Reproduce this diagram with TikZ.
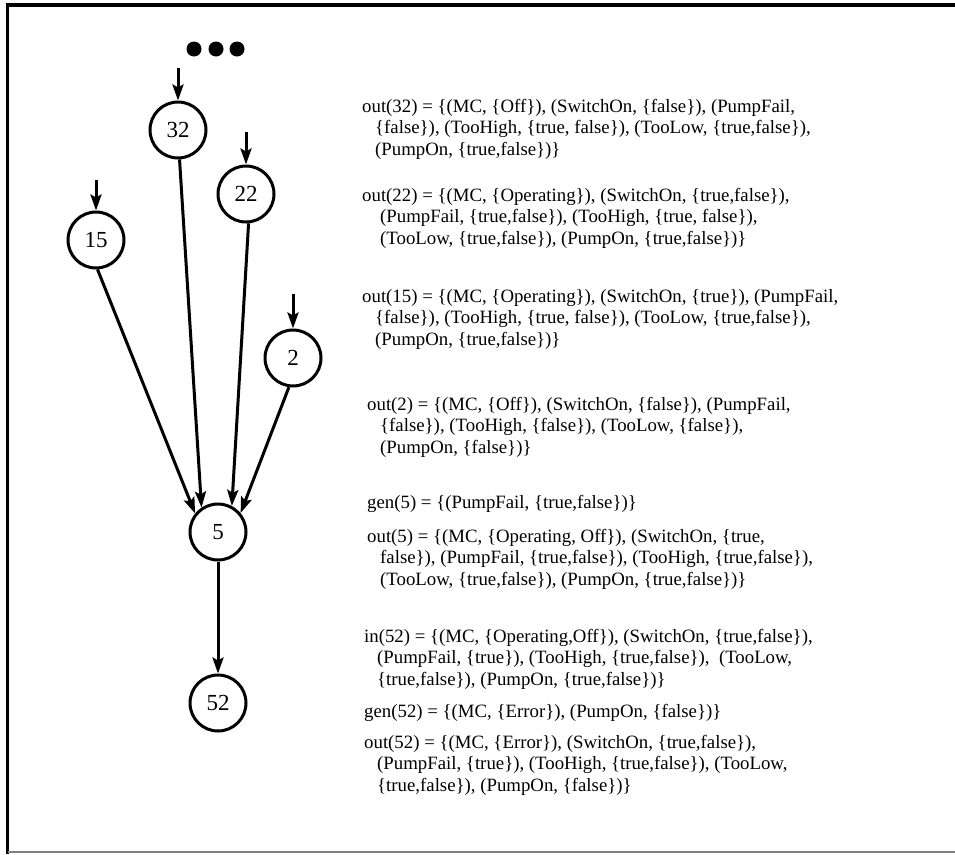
\documentclass[tikz,border=0pt]{standalone}
\usepackage{fontspec}
\setmainfont{Liberation Serif}
\usetikzlibrary{arrows.meta}
\begin{document}
\begin{tikzpicture}[x=1pt,y=-1pt,
  state/.style={circle,draw,line width=3pt,minimum size=56pt,inner sep=0pt,font=\fontsize{23}{23}\selectfont},
  edge/.style={line width=3pt,-{Stealth[length=16pt,width=11pt,inset=3pt]}},
  info/.style={anchor=base west,inner sep=0pt,align=left,font=\fontsize{18.8}{21.5}\selectfont},
  dot/.style={circle,fill,inner sep=0pt,minimum size=15pt}
]
\useasboundingbox (0,0) rectangle (955,854);
\draw[line width=3.5pt] (955,5) -- (7.5,5) -- (7.5,854);
\draw[line width=1.5pt,gray] (7.5,852) -- (955,852);

\node[dot] (d1) at (194,49) {};
\node[dot] (d2) at (216,49) {};
\node[dot] (d3) at (237,49) {};

\node[state] (n32) at (178,130) {32};
\node[state] (n22) at (246,194) {22};
\node[state] (n15) at (96,240) {15};
\node[state] (n2) at (293,358) {2};
\node[state] (n5) at (218,532) {5};
\node[state] (n52) at (218,703) {52};

\coordinate (i32) at (178,68);
\coordinate (i22) at (246,132);
\coordinate (i15) at (96,180);
\coordinate (i2) at (293,294);
\draw[edge] (i32) -- (n32);
\draw[edge] (i22) -- (n22);
\draw[edge] (i15) -- (n15);
\draw[edge] (i2) -- (n2);

\draw[edge] (n15.-87) -- (n5.141);
\draw[edge] (n32.-87) -- (n5.124);
\draw[edge] (n22.-85) -- (n5.62);
\draw[edge] (n2.-98) -- (n5.40);
\draw[edge] (n5) -- (n52);

% multi-line nodes: base anchor is the baseline of the last line
\node[info] (t32) at (362,155) {out(32) = \{(MC, \{Off\}), (SwitchOn, \{false\}), (PumpFail,\\
\hspace*{13pt}\{false\}), (TooHigh, \{true, false\}), (TooLow, \{true,false\}),\\
\hspace*{13pt}(PumpOn, \{true,false\})\}};

\node[info] (t22) at (362,244) {out(22) = \{(MC, \{Operating\}), (SwitchOn, \{true,false\}),\\
\hspace*{18pt}(PumpFail, \{true,false\}), (TooHigh, \{true, false\}),\\
\hspace*{18pt}(TooLow, \{true,false\}), (PumpOn, \{true,false\})\}};

\node[info] (t15) at (362,345) {out(15) = \{(MC, \{Operating\}), (SwitchOn, \{true\}), (PumpFail,\\
\hspace*{13pt}\{false\}), (TooHigh, \{true, false\}), (TooLow, \{true,false\}),\\
\hspace*{13pt}(PumpOn, \{true,false\})\}};

\node[info] (t2) at (367,453) {out(2) = \{(MC, \{Off\}), (SwitchOn, \{false\}), (PumpFail,\\
\hspace*{13pt}\{false\}), (TooHigh, \{false\}), (TooLow, \{false\}),\\
\hspace*{13pt}(PumpOn, \{false\})\}};

\node[info] (g5) at (367,508) {gen(5) = \{(PumpFail, \{true,false\})\}};

\node[info] (t5) at (367,585) {out(5) = \{(MC, \{Operating, Off\}), (SwitchOn, \{true,\\
\hspace*{13pt}false\}), (PumpFail, \{true,false\}), (TooHigh, \{true,false\}),\\
\hspace*{13pt}(TooLow, \{true,false\}), (PumpOn, \{true,false\})\}};

\node[info] (in52) at (364,685) {in(52) = \{(MC, \{Operating,Off\}), (SwitchOn, \{true,false\}),\\
\hspace*{13pt}(PumpFail, \{true\}), (TooHigh, \{true,false\}),\ \ (TooLow,\\
\hspace*{13pt}\{true,false\}), (PumpOn, \{true,false\})\}};

\node[info] (g52) at (364,717) {gen(52) = \{(MC, \{Error\}), (PumpOn, \{false\})\}};

\node[info] (t52) at (364,791) {out(52) = \{(MC, \{Error\}), (SwitchOn, \{true,false\}),\\
\hspace*{13pt}(PumpFail, \{true\}), (TooHigh, \{true,false\}), (TooLow,\\
\hspace*{13pt}\{true,false\}), (PumpOn, \{false\})\}};
\end{tikzpicture}
\end{document}
